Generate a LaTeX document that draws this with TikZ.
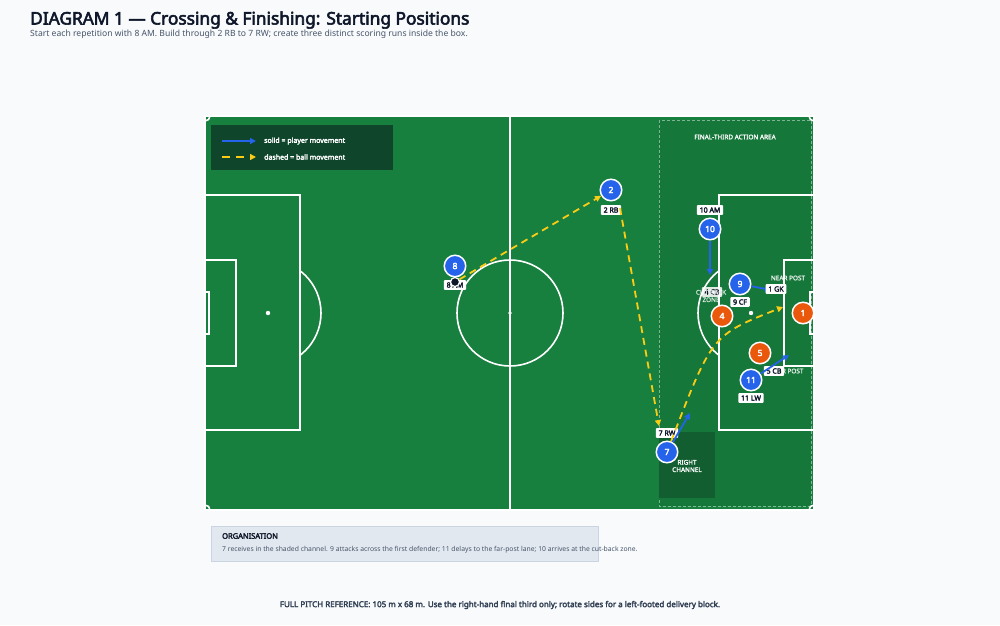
\documentclass[tikz,border=0pt]{standalone}
\usepackage{fontspec}
\setmainfont{Noto Sans}[BoldFont={Noto Sans},BoldFeatures={FakeBold=3.2}]
\usetikzlibrary{arrows.meta}
\definecolor{bg}{HTML}{F8FAFC}
\definecolor{pitch}{HTML}{18803F}
\definecolor{third}{HTML}{16773B}
\definecolor{chan}{HTML}{125E31}
\definecolor{legbg}{HTML}{0E452B}
\definecolor{pblue}{HTML}{2563EB}
\definecolor{porange}{HTML}{EA580C}
\definecolor{ballc}{HTML}{FACC15}
\definecolor{ink}{HTML}{0F172A}
\definecolor{sub}{HTML}{475569}
\definecolor{orgbg}{HTML}{E2E8F0}
\definecolor{orgln}{HTML}{CBD5E1}
\definecolor{foot}{HTML}{334155}
\begin{document}
\begin{tikzpicture}[x=1pt,y=-1pt,
  line/.style={draw=white,line width=1.6pt},
  att/.style={circle,fill=pblue,draw=white,line width=1.5pt,minimum size=21.5pt,inner sep=0pt,text=white,font=\fontsize{8.5}{9}\selectfont\bfseries},
  def/.style={circle,fill=porange,draw=white,line width=1.5pt,minimum size=21.5pt,inner sep=0pt,text=white,font=\fontsize{8.5}{9}\selectfont\bfseries},
  tag/.style={fill=white,rounded corners=1pt,inner xsep=2.8pt,inner ysep=2.4pt,text=ink,font=\fontsize{7}{7}\selectfont\bfseries},
  zone/.style={text=white,text opacity=0.85,font=\fontsize{6.4}{7.4}\selectfont\bfseries,align=center},
  run/.style={draw=pblue,line width=1.8pt,-{Triangle[length=6pt,width=6pt]}},
  pass/.style={draw=ballc,line width=1.8pt,dash pattern=on 7pt off 5pt,-{Triangle[length=6pt,width=6pt]}},
  txt/.style={anchor=west,inner sep=0pt}]
\useasboundingbox (0,0) rectangle (1000,625);
\fill[bg] (0,0) rectangle (1000,625);

% title
\node[txt,text=ink,font=\fontsize{17.3}{18}\selectfont\bfseries] (title) at (30,20) {DIAGRAM 1 — Crossing \& Finishing: Starting Positions};
\node[txt,text=sub,font=\fontsize{8.6}{9}\selectfont] (subtitle) at (30,34) {Start each repetition with 8 AM. Build through 2 RB to 7 RW; create three distinct scoring runs inside the box.};

% pitch
\fill[pitch] (205,116) rectangle (814,510);
\fill[third] (659,120) rectangle (811,506);
\draw[white,opacity=0.45,line width=0.8pt,dash pattern=on 3pt off 2pt] (659,120) rectangle (811,506);
\fill[chan] (659,432) rectangle (715,498);

\draw[line] (205,116) rectangle (814,510);
\draw[line] (510,116) -- (510,510);
\draw[line] (510,313) circle (53);
\fill[white] (510,313) circle (1.8);
% left
\draw[line] (205,195) rectangle (300,430);
\draw[line] (205,260) rectangle (236,366);
\draw[line] (205,292) rectangle (209,334);
\fill[white] (268,313) circle (2.2);
\begin{scope}
\clip (300,200) rectangle (340,420);
\draw[line] (268,313) circle (53);
\end{scope}
% right
\draw[line] (719,195) rectangle (814,430);
\draw[line] (784,260) rectangle (814,366);
\draw[line] (810,292) rectangle (814,334);
\fill[white] (751,313) circle (2.2);
\begin{scope}
\clip (680,200) rectangle (719,420);
\draw[line] (751,313) circle (53);
\end{scope}
% corners
\begin{scope}
\clip (205,116) rectangle (814,510);
\draw[line] (205,116) circle (5);
\draw[line] (814,116) circle (5);
\draw[line] (205,510) circle (5);
\draw[line] (814,510) circle (5);
\end{scope}

% legend
\fill[legbg] (211,125) rectangle (393,170);
\coordinate (la1) at (222,141);
\coordinate (lb1) at (256,141);
\coordinate (la2) at (222,157);
\coordinate (lb2) at (256,157);
\draw[run] (la1) -- (lb1);
\draw[pass,dash pattern=on 8pt off 6pt] (la2) -- (lb2);
\node[txt,text=white,font=\fontsize{7}{7}\selectfont\bfseries] (leg1) at (264,141) {solid = player movement};
\node[txt,text=white,font=\fontsize{7}{7}\selectfont\bfseries] (leg2) at (264,157) {dashed = ball movement};

% zone texts
\node[zone] (fta) at (735,137) {FINAL-THIRD ACTION AREA};
\node[zone] (rch) at (687,466) {RIGHT\\CHANNEL};
\node[zone,text opacity=0.7] (np) at (788,278) {NEAR POST};

% players
\node[att] (p8) at (455,266) {8};
\node[tag] (t8) at (455,285) {8 AM};
\node[circle,fill=ink,draw=white,line width=1.2pt,minimum size=9pt,inner sep=0pt] (ball) at (455,282) {};
\node[att] (p2) at (611,190) {2};
\node[tag] (t2) at (611,210) {2 RB};
\node[att] (p10) at (710,229) {10};
\node[tag] (t10) at (710,210) {10 AM};
\node[att] (p7) at (667,452) {7};
\node[tag] (t7) at (667,433) {7 RW};
\node[def] (p4) at (722,316) {4};
\node[tag,fill opacity=0.85,text opacity=1] (t4) at (712,292) {4 CB};
\node[zone,text opacity=0.6] (cbz) at (711,296) {CUT-BACK\\ZONE};
\node[def] (p1) at (803,313) {1};
\node[def] (p5) at (760,353) {5};
\node[zone,text opacity=0.7] (fp) at (789,371) {FAR POST};
\node[tag] (t5) at (774,371) {5 CB};
\node[att] (p11) at (751,380) {11};
\node[tag] (t11) at (751,398) {11 LW};
\node[att] (p9) at (740,284) {9};
\node[tag] (t9) at (740,302) {9 CF};

% ball movement
\coordinate (s2) at (620,208);
\coordinate (e7) at (659,426);
\coordinate (ecross) at (783,307);
\draw[pass] (ball) -- (p2);
\draw[pass] (s2) -- (e7);
\draw[pass] (p7) .. controls (712,335) .. (ecross);

% player movement
\coordinate (e10) at (710,275);
\coordinate (e9) at (771,290);
\coordinate (e11) at (789,355);
\coordinate (e7r) at (690,413);
\draw[run] (p10) -- (e10);
\draw[run] (p9) -- (e9);
\draw[run] (p11) -- (e11);
\draw[run] (p7) -- (e7r);

\node[tag] (t1) at (776,289) {1 GK};

% organisation
\draw[fill=orgbg,draw=orgln,line width=0.6pt] (211,526) rectangle (598,561);
\node[txt,text=ink,font=\fontsize{7.5}{8}\selectfont\bfseries] (orgh) at (222,536) {ORGANISATION};
\node[txt,text=sub,font=\fontsize{6.8}{7}\selectfont] (orgt) at (222,550) {7 receives in the shaded channel. 9 attacks across the first defender; 11 delays to the far-post lane; 10 arrives at the cut-back zone.};

% footer
\node[text=foot,font=\fontsize{8}{8}\selectfont\bfseries,inner sep=0pt] (footer) at (500,605) {FULL PITCH REFERENCE: 105 m x 68 m. Use the right-hand final third only; rotate sides for a left-footed delivery block.};
\end{tikzpicture}
\end{document}
